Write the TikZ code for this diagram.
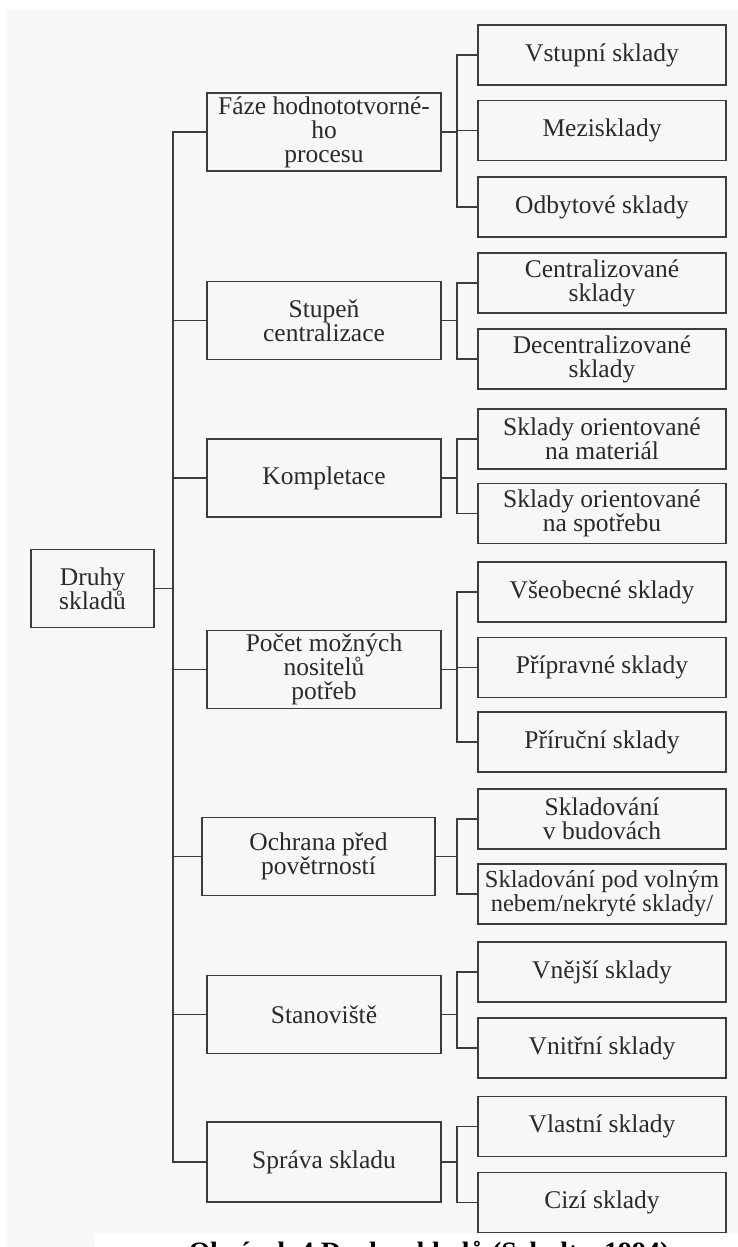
\documentclass[tikz,border=0pt]{standalone}
\usepackage{fontspec}
\setmainfont{Liberation Serif}
\definecolor{linec}{HTML}{3C3C3C}
\definecolor{textc}{HTML}{2A2A2A}
\definecolor{paper}{HTML}{F7F7F7}
\tikzset{
  box/.style={draw=linec, line width=1.5pt, inner sep=0pt, align=center,
    text=textc, font=\fontsize{25.5}{24}\selectfont},
  mainbox/.style={box, minimum width=123pt, minimum height=78pt},
  groupbox/.style={box, minimum width=234pt, minimum height=78pt},
  leafbox/.style={box, minimum width=248pt, minimum height=60pt},
  conn/.style={draw=linec, line width=1.5pt}
}
\begin{document}
\begin{tikzpicture}[x=1pt, y=-1pt]
\useasboundingbox (0,0) rectangle (738,1247);
\begin{scope}
\clip (0,0) rectangle (738,1247);
% page background
\fill[white] (0,0) rectangle (738,1247);
\fill[paper] (7,10) rectangle (738,1247);
\fill[white] (95,1234) rectangle (738,1247);

% root
\node[mainbox] (root) at (92.5,588.5) {Druhy\\skladů};

% classification criteria
\node[groupbox] (f1) at (324,132)    {Fáze hodnototvorné-\\ho\\procesu};
\node[groupbox] (f2) at (324,320.5)  {Stupeň\\centralizace};
\node[groupbox] (f3) at (324,478)    {Kompletace};
\node[groupbox] (f4) at (324,669.5)  {Počet možných\\nositelů\\potřeb};
\node[groupbox, minimum width=233pt] (f5) at (318.5,856.5) {Ochrana před\\povětrností};
\node[groupbox] (f6) at (324,1014.5) {Stanoviště};
\node[groupbox, minimum height=80pt] (f7) at (324,1162) {Správa skladu};

% warehouse types
\node[leafbox] (c11) at (602,55)     {Vstupní sklady};
\node[leafbox] (c12) at (602,130.5)  {Mezisklady};
\node[leafbox] (c13) at (602,207)    {Odbytové sklady};
\node[leafbox] (c21) at (602,283)    {Centralizované\\sklady};
\node[leafbox] (c22) at (602,359)    {Decentralizované\\sklady};
\node[leafbox] (c31) at (602,439)    {Sklady orientované\\na materiál};
\node[leafbox] (c32) at (602,513.5)  {Sklady orientované\\na spotřebu};
\node[leafbox] (c41) at (602,592)    {Všeobecné sklady};
\node[leafbox] (c42) at (602,667.5)  {Přípravné sklady};
\node[leafbox] (c43) at (602,742)    {Příruční sklady};
\node[leafbox] (c51) at (602,819)    {Skladování\\v budovách};
\node[leafbox, font=\fontsize{24.5}{24}\selectfont] (c52) at (602,894)
  {Skladování pod volným\\nebem/nekryté sklady/};
\node[leafbox] (c61) at (602,972)    {Vnější sklady};
\node[leafbox] (c62) at (602,1048)   {Vnitřní sklady};
\node[leafbox] (c71) at (602,1126.5) {Vlastní sklady};
\node[leafbox] (c72) at (602,1202.5) {Cizí sklady};

% trunk from the root to every criterion
\coordinate (trunk) at (173,0);
\draw[conn] (f1.west) -- (f1.west -| trunk) |- (f7.west);
\draw[conn] (root.east) -- (root.east -| trunk);
\foreach \f in {f2,f3,f4,f5,f6}
  \draw[conn] (\f.west) -- (\f.west -| trunk);

% branches from each criterion to its types
\coordinate (spine) at (457,0);
\foreach \p/\a/\z in {f1/c11/c13, f2/c21/c22, f3/c31/c32, f4/c41/c43,
                      f5/c51/c52, f6/c61/c62, f7/c71/c72} {
  \draw[conn] (\a.west) -- (\a.west -| spine) |- (\z.west);
  \draw[conn] (\p.east) -- (\p.east -| spine);
}
\foreach \m in {c12,c42}
  \draw[conn] (\m.west) -- (\m.west -| spine);

% caption
\node[anchor=base, font=\bfseries\fontsize{28}{30}\selectfont, text=black]
  (cap) at (429,1261) {Obrázek 4 Druhy skladů (Schulte, 1994)};
\end{scope}
\end{tikzpicture}
\end{document}
